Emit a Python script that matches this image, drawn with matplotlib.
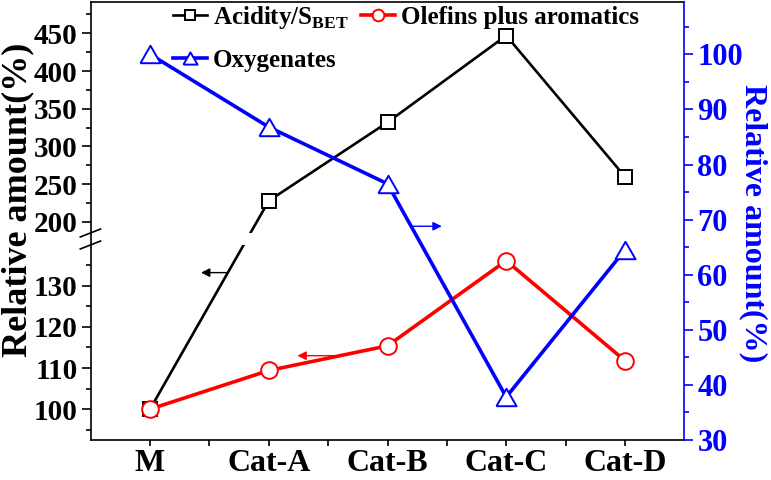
import numpy as np
import matplotlib
matplotlib.use('agg')
import matplotlib.pyplot as plt
from matplotlib.ticker import FixedLocator

plt.rcParams['font.family'] = ['Liberation Serif', 'DejaVu Serif']
plt.rcParams['font.weight'] = 'bold'
plt.rcParams['mathtext.fontset'] = 'custom'
plt.rcParams['mathtext.rm'] = 'Liberation Serif:bold'
plt.rcParams['mathtext.bf'] = 'Liberation Serif:bold'

categories = ['M', 'Cat-A', 'Cat-B', 'Cat-C', 'Cat-D']
acidity = [100, 228, 332, 447, 260]
olefins = [100, 109.4, 115.4, 136.1, 111.8]
oxygenates = [100, 86.8, 76.5, 37.8, 64.5]

BLUE = '#0000ff'
RED = '#ff0000'

# broken left axis: 92.5-140 (lower) and 185.8-491.5 (upper)
lo_top, hi_bot = 140.0, 185.8
lo_slope, hi_slope, gap = 4.11, 0.754, 12.0
yp = [-1e4, lo_top, hi_bot, 1e5]
fp = [(-1e4 - lo_top) * lo_slope, 0.0, gap, gap + (1e5 - hi_bot) * hi_slope]


def fwd(y):
    return np.interp(y, yp, fp)


def inv(t):
    return np.interp(t, fp, yp)


fig = plt.figure(figsize=(7.71, 4.8), dpi=100)
ax = fig.add_axes([90.7 / 771, 40 / 480, 593.6 / 771, 438 / 480])
ax.set_yscale('function', functions=(fwd, inv))
ax.set_ylim(92.5, 491.5)
ax.set_xlim(-0.5, 4.5)

x = np.arange(len(categories))

l1, = ax.plot(x, acidity, color='black', lw=1.9, marker='s', ms=10,
              mfc='white', mec='black', mew=1.4, zorder=2)
l2, = ax.plot(x, olefins, color=RED, lw=2.6, marker='o', ms=12,
              mfc='white', mec=RED, mew=1.4, zorder=3)
# gap of the black line across the axis break
ax.axhspan(lo_top, hi_bot, color='white', zorder=2.2, lw=0)

ax2 = ax.twinx()
ax2.set_ylim(30, 109.5)
tri = [(-1, -0.866), (1, -0.866), (0, 0.866), (-1, -0.866)]
l3, = ax2.plot(x, oxygenates, color=BLUE, lw=2.6, marker=tri, ms=14.5,
               mfc='white', mec=BLUE, mew=1.4)

# ticks
ax.set_xticks(x)
ax.set_xticklabels(categories)
ax.xaxis.set_minor_locator(FixedLocator(np.arange(0.5, 4.0, 1.0)))
ax.tick_params(axis='x', which='both', length=4.5, width=1.2, labelsize=23, pad=2)

ax.yaxis.set_major_locator(FixedLocator([100, 110, 120, 130, 200, 250, 300, 350, 400, 450]))
ax.yaxis.set_minor_locator(FixedLocator([95, 105, 115, 125, 135, 225, 275, 325, 375, 425, 475]))
ax.yaxis.set_major_formatter(plt.FuncFormatter(lambda v, p: f'{v:.0f}'))
ax.yaxis.set_minor_formatter(plt.NullFormatter())
ax.tick_params(axis='y', which='major', length=6.5, width=1.2, labelsize=21, pad=3)
ax.tick_params(axis='y', which='minor', length=3.5, width=1.2)

ax2.yaxis.set_major_locator(FixedLocator(np.arange(30, 101, 10)))
ax2.yaxis.set_minor_locator(FixedLocator(np.arange(35, 106, 10)))
ax2.tick_params(axis='y', which='major', length=6.5, width=1.2, labelsize=22,
                colors=BLUE, pad=3)
ax2.tick_params(axis='y', which='minor', length=3.5, width=1.2, colors=BLUE)

for s in ['left', 'bottom', 'top']:
    ax.spines[s].set_linewidth(1.2)
ax.spines['right'].set_visible(False)
for s in ['left', 'bottom', 'top']:
    ax2.spines[s].set_visible(False)
ax2.spines['right'].set_color(BLUE)
ax2.spines['right'].set_linewidth(1.2)

# break marks on left spine
for yb in [0.4726, 0.4452]:
    ax.plot([-0.0175, 0.0165], [yb - 0.009, yb + 0.009], color='black', lw=1.2,
            transform=ax.transAxes, clip_on=False, zorder=5)

# axis labels
fig.text(18 / 771, 1 - 200 / 480, 'Relative amount(%)', rotation=90,
         ha='center', va='center', fontsize=26, fontweight='bold')
fig.text(753 / 771, 1 - 223 / 480, 'Relative amount(%)', rotation=-90,
         ha='center', va='center', fontsize=23, fontweight='bold', color=BLUE)

# arrows pointing at the axes
arr = dict(arrowstyle='-|>', lw=1.0, mutation_scale=13, shrinkA=0, shrinkB=0)
ax.annotate('', xy=(0.429, 133.2), xytext=(0.646, 133.2),
            arrowprops=dict(arr, color='black'))
ax.annotate('', xy=(1.241, 113), xytext=(1.556, 113),
            arrowprops=dict(arr, color=RED))
ax2.annotate('', xy=(2.457, 68.8), xytext=(2.202, 68.8),
             arrowprops=dict(arr, color=BLUE))

l1.set_label('Acidity/S$_{\\mathregular{BET}}$')
l2.set_label('Olefins plus aromatics')
l3.set_label('Oxygenates')
leg = ax2.legend(handles=[l1, l3, l2], ncol=2, loc='upper left',
                 bbox_to_anchor=(0.1386, 0.995), frameon=False,
                 prop={'size': 18, 'weight': 'bold'}, handlelength=1.35,
                 handletextpad=0.25, columnspacing=0.5, labelspacing=0.7,
                 borderpad=0, borderaxespad=0, markerscale=0.7)

fig.savefig('out.png', dpi=100)
